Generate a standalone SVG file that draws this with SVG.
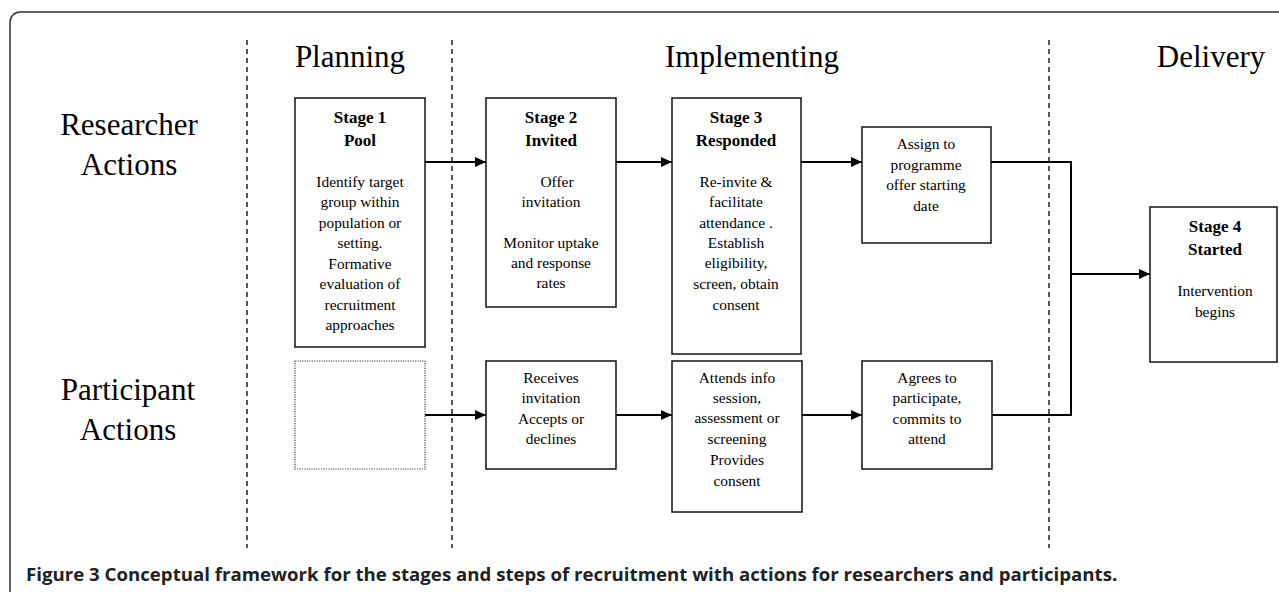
<svg xmlns="http://www.w3.org/2000/svg" width="1279" height="592" viewBox="0 0 1279 592">
<defs>
<style>
.lane{font-family:"Liberation Serif","Times New Roman",serif;font-size:31px;fill:#000;text-anchor:middle}
.h{font-family:"Liberation Serif","Times New Roman",serif;font-size:17px;font-weight:bold;fill:#000;text-anchor:middle}
.t{font-family:"Liberation Serif","Times New Roman",serif;font-size:15.4px;fill:#000;text-anchor:middle}
.box{fill:#fff;stroke:#111;stroke-width:1.5}
.dot{fill:#fff;stroke:#444;stroke-width:1.2;stroke-dasharray:1.2,1.2}
.div{stroke:#000;stroke-width:1.3;stroke-dasharray:5,4;fill:none}
.con{stroke:#000;stroke-width:2;fill:none}
.cap{font-family:"Open Sans","DejaVu Sans",sans-serif;font-size:18.5px;font-weight:bold;fill:#222}
</style>
<marker id="arr" markerUnits="userSpaceOnUse" markerWidth="11" markerHeight="10" refX="11" refY="5" orient="auto">
<path d="M0,0 L11,5 L0,10 Z" fill="#000"/>
</marker>
</defs>
<rect x="10" y="12" width="1300" height="600" rx="10" ry="10" fill="#fff" stroke="#333" stroke-width="1.5"/>
<g id="dividers">
<line class="div" x1="247" y1="40" x2="247" y2="548"/>
<line class="div" x1="452" y1="40" x2="452" y2="548"/>
<line class="div" x1="1049" y1="40" x2="1049" y2="548"/>
</g>
<g id="lane-labels">
<text class="lane" x="350" y="67">Planning</text>
<text class="lane" x="752" y="67">Implementing</text>
<text class="lane" x="1211" y="67">Delivery</text>
<text class="lane" x="129" y="135">Researcher</text>
<text class="lane" x="129" y="175">Actions</text>
<text class="lane" x="128" y="400">Participant</text>
<text class="lane" x="128" y="440">Actions</text>
</g>
<g id="connectors">
<line class="con" x1="425" y1="162" x2="486" y2="162" marker-end="url(#arr)"/>
<line class="con" x1="616" y1="162" x2="672" y2="162" marker-end="url(#arr)"/>
<line class="con" x1="801" y1="162" x2="862" y2="162" marker-end="url(#arr)"/>
<line class="con" x1="425" y1="415" x2="486" y2="415" marker-end="url(#arr)"/>
<line class="con" x1="616" y1="415" x2="672" y2="415" marker-end="url(#arr)"/>
<line class="con" x1="802" y1="415" x2="862" y2="415" marker-end="url(#arr)"/>
<polyline class="con" points="991,162 1071,162 1071,415 992,415"/>
<line class="con" x1="1071" y1="274" x2="1150" y2="274" marker-end="url(#arr)"/>
</g>
<g id="stage1">
<rect class="box" x="295" y="98" width="130" height="249"/>
<text class="h" x="360" y="123">Stage 1</text>
<text class="h" x="360" y="146">Pool</text>
<text class="t" x="360" y="187">Identify target</text>
<text class="t" x="360" y="207">group within</text>
<text class="t" x="360" y="228">population or</text>
<text class="t" x="360" y="248">setting.</text>
<text class="t" x="360" y="269">Formative</text>
<text class="t" x="360" y="289">evaluation of</text>
<text class="t" x="360" y="310">recruitment</text>
<text class="t" x="360" y="330">approaches</text>
</g>
<g id="stage2">
<rect class="box" x="486" y="98" width="130" height="209"/>
<text class="h" x="551" y="123">Stage 2</text>
<text class="h" x="551" y="146">Invited</text>
<text class="t" x="557" y="187">Offer</text>
<text class="t" x="551" y="207">invitation</text>
<text class="t" x="551" y="248">Monitor uptake</text>
<text class="t" x="551" y="268">and response</text>
<text class="t" x="551" y="288">rates</text>
</g>
<g id="stage3">
<rect class="box" x="672" y="98" width="129" height="256"/>
<text class="h" x="736" y="123">Stage 3</text>
<text class="h" x="736" y="146">Responded</text>
<text class="t" x="736" y="187">Re-invite &amp;</text>
<text class="t" x="736" y="207">facilitate</text>
<text class="t" x="736" y="228">attendance .</text>
<text class="t" x="736" y="248">Establish</text>
<text class="t" x="736" y="268">eligibility,</text>
<text class="t" x="736" y="289">screen, obtain</text>
<text class="t" x="736" y="310">consent</text>
</g>
<g id="assign">
<rect class="box" x="862" y="127" width="129" height="116"/>
<text class="t" x="926" y="149">Assign to</text>
<text class="t" x="926" y="170">programme</text>
<text class="t" x="926" y="190">offer starting</text>
<text class="t" x="926" y="211">date</text>
</g>
<g id="stage4">
<rect class="box" x="1150" y="207" width="127" height="155"/>
<text class="h" x="1215" y="232">Stage 4</text>
<text class="h" x="1215" y="255">Started</text>
<text class="t" x="1215" y="296">Intervention</text>
<text class="t" x="1215" y="317">begins</text>
</g>
<g id="pool-participant">
<rect class="dot" x="295" y="361" width="130" height="108"/>
</g>
<g id="receives">
<rect class="box" x="486" y="361" width="130" height="108"/>
<text class="t" x="551" y="383">Receives</text>
<text class="t" x="551" y="403">invitation</text>
<text class="t" x="551" y="424">Accepts or</text>
<text class="t" x="551" y="444">declines</text>
</g>
<g id="attends">
<rect class="box" x="672" y="361" width="130" height="151"/>
<text class="t" x="737" y="383">Attends info</text>
<text class="t" x="737" y="403">session,</text>
<text class="t" x="737" y="423">assessment or</text>
<text class="t" x="737" y="444">screening</text>
<text class="t" x="737" y="465">Provides</text>
<text class="t" x="737" y="486">consent</text>
</g>
<g id="agrees">
<rect class="box" x="862" y="361" width="130" height="108"/>
<text class="t" x="927" y="383">Agrees to</text>
<text class="t" x="927" y="403">participate,</text>
<text class="t" x="927" y="424">commits to</text>
<text class="t" x="927" y="444">attend</text>
</g>
<g id="caption">
<text class="cap" x="26" y="581" textLength="1086" lengthAdjust="spacingAndGlyphs">Figure 3 Conceptual framework for the stages and steps of recruitment with actions for researchers and participants</text>
<text class="cap" x="1112" y="581" font-weight="normal">.</text>
</g>
</svg>
